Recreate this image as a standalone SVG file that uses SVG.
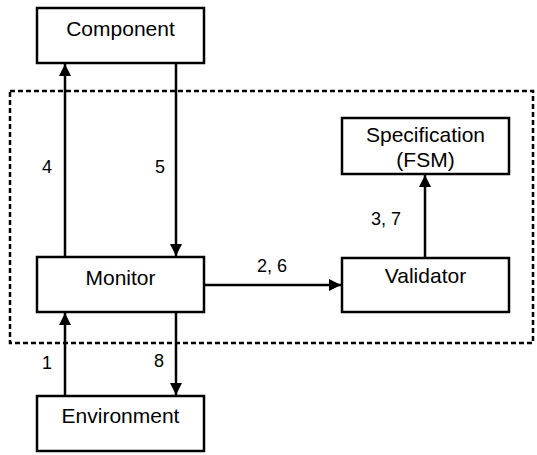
<svg xmlns="http://www.w3.org/2000/svg" width="537" height="455" viewBox="0 0 537 455">
<style>
.box{fill:#fff;stroke:#000;stroke-width:2.5}
.t{font-family:"Liberation Sans",Arial,sans-serif;font-size:21px;text-anchor:middle;fill:#000}
.l{font-family:"Liberation Sans",Arial,sans-serif;font-size:18px;fill:#000}
.c{stroke:#000;stroke-width:2.5;fill:none;marker-end:url(#ah)}
</style>
<defs>
<marker id="ah" viewBox="0 0 12 12" refX="12" refY="6" markerWidth="12" markerHeight="12" markerUnits="userSpaceOnUse" orient="auto">
<path d="M0,0 L12,6 L0,12 Z" fill="#000"/>
</marker>
</defs>
<rect x="10" y="91" width="523" height="252" fill="none" stroke="#000" stroke-width="2.5" stroke-dasharray="5,3"/>
<g id="component"><rect class="box" x="37" y="8" width="167" height="55"/><text class="t" x="120.5" y="36">Component</text></g>
<g id="monitor"><rect class="box" x="37" y="257" width="167" height="55"/><text class="t" x="120.5" y="285">Monitor</text></g>
<g id="environment"><rect class="box" x="37" y="396" width="167" height="55"/><text class="t" x="120.5" y="423">Environment</text></g>
<g id="specification"><rect class="box" x="342" y="118" width="167" height="56"/><text class="t" x="425.5" y="142" font-size="19.5">Specification</text><text class="t" x="425.5" y="167" font-size="19.5">(FSM)</text></g>
<g id="validator"><rect class="box" x="342" y="258" width="167" height="54"/><text class="t" x="425.5" y="283">Validator</text></g>
<g id="connectors">
<line class="c" x1="65" y1="257" x2="65" y2="64"/>
<line class="c" x1="176" y1="63" x2="176" y2="256"/>
<line class="c" x1="204" y1="285" x2="341" y2="285"/>
<line class="c" x1="425" y1="258" x2="425" y2="175"/>
<line class="c" x1="65" y1="396" x2="65" y2="313"/>
<line class="c" x1="176" y1="312" x2="176" y2="395"/>
<text class="l" x="42" y="173">4</text>
<text class="l" x="155" y="173">5</text>
<text class="l" x="257" y="272">2, 6</text>
<text class="l" x="371" y="225">3, 7</text>
<text class="l" x="42" y="369">1</text>
<text class="l" x="154" y="367">8</text>
</g>
</svg>
